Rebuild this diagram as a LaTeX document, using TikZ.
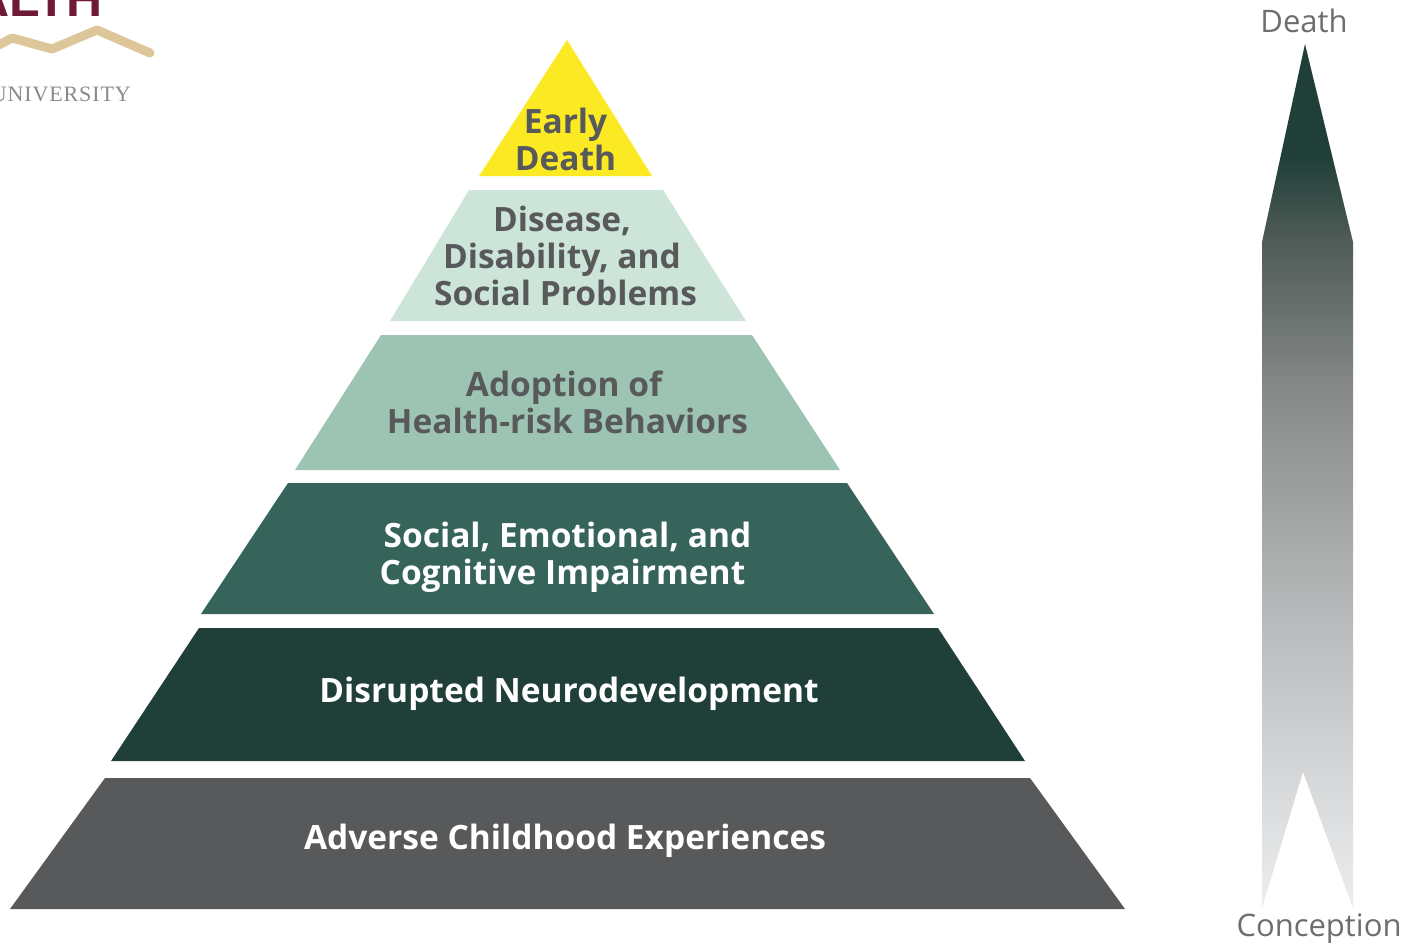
\documentclass[tikz,border=0pt]{standalone}
\usepackage{fontspec}
\setmainfont{Open Sans}
\newfontfamily\logoserif{Liberation Serif}[LetterSpace=4]
\newfontfamily\logosans{Liberation Sans}
\definecolor{tYellow}{HTML}{FBE923}
\definecolor{tMint}{HTML}{CCE5D8}
\definecolor{tSage}{HTML}{9DC4B3}
\definecolor{tTeal}{HTML}{36635A}
\definecolor{tForest}{HTML}{1F3F38}
\definecolor{tGrey}{HTML}{58595B}
\definecolor{labelGrey}{HTML}{6D6E71}
\definecolor{logoRed}{HTML}{6F1A35}
\definecolor{logoTan}{HTML}{DCC69A}
\definecolor{logoGrey}{HTML}{8A8A8C}
\definecolor{gA}{HTML}{ECEDED}
\definecolor{gB}{HTML}{D5D6D8}
\definecolor{gC}{HTML}{B5B6B7}
\definecolor{gD}{HTML}{8A8C8B}
\definecolor{gE}{HTML}{4F5B56}
\pgfdeclareverticalshading{lifeaxis}{100bp}{
  color(0bp)=(gA);
  color(25bp)=(gA);
  color(32.9bp)=(gB);
  color(42.8bp)=(gC);
  color(54.4bp)=(gD);
  color(63.7bp)=(gE);
  color(68.6bp)=(tForest);
  color(100bp)=(tForest)}
\tikzset{
  tier/.style={draw=none},
  lbl/.style={align=center,inner sep=0pt,font=\fontsize{33.5}{37}\selectfont\bfseries},
  lbldark/.style={lbl,text=tGrey},
  lbllight/.style={lbl,text=white},
  axislbl/.style={inner sep=0pt,anchor=base,text=labelGrey,font=\fontsize{31}{37}\selectfont}
}
\begin{document}
\begin{tikzpicture}[x=1pt,y=-1pt]
\useasboundingbox (0,0) rectangle (1415,942);
\clip (0,0) rectangle (1415,942);
% logo
\node[inner sep=0pt,anchor=base east,text=logoRed,font=\logosans\fontsize{50}{50}\selectfont\bfseries] (logoword) at (103,17) {ALTH};
\coordinate (t1) at (-5,47);
\coordinate (t2) at (12,38);
\coordinate (t3) at (52,49);
\coordinate (t4) at (97,30);
\coordinate (t5) at (150,53);
\draw[logoTan,line width=9pt,line cap=round,line join=round] (t1)--(t2)--(t3)--(t4)--(t5);
\node[inner sep=0pt,anchor=base east,text=logoGrey,font=\logoserif\fontsize{22}{22}\selectfont] (logouni) at (131,101) {UNIVERSITY};
% pyramid
\fill[tier,tYellow] (567,40)--(652,176)--(479,176)--cycle;
\fill[tier,tMint] (469,190)--(663,190)--(746,321)--(390,321)--cycle;
\fill[tier,tSage] (381,335)--(752,335)--(840,470)--(295,470)--cycle;
\fill[tier,tTeal] (288,483)--(847,483)--(934,614)--(201,614)--cycle;
\fill[tier,tForest] (199,628)--(938,628)--(1025,761)--(111,761)--cycle;
\fill[tier,tGrey] (105,778)--(1030,778)--(1125,909)--(10,909)--cycle;
\node[lbldark] (early) at (565.5,139) {Early\\Death};
\node[lbldark] (disease) at (562,256) {Disease,\\Disability, and\\\hspace*{7pt}Social Problems};
\node[lbldark] (adoption) at (567.5,402.5) {Adoption of\hspace*{7pt}\\Health-risk Behaviors};
\node[lbllight] (social) at (565,557) {\hspace*{5pt}Social, Emotional, and\\Cognitive Impairment\hspace*{5pt}};
\node[lbllight] (disrupted) at (569,694) {Disrupted Neurodevelopment};
\node[lbllight] (adverse) at (565,841) {Adverse Childhood Experiences};
% axis arrow
\shade[shading=lifeaxis] (1305,44)--(1353,242)--(1353,908)--(1303,772)--(1262,908)--(1262,242)--cycle;
\node[axislbl] (death) at (1304,33) {Death};
\node[axislbl] (conception) at (1319,936) {Conception};
\end{tikzpicture}
\end{document}
